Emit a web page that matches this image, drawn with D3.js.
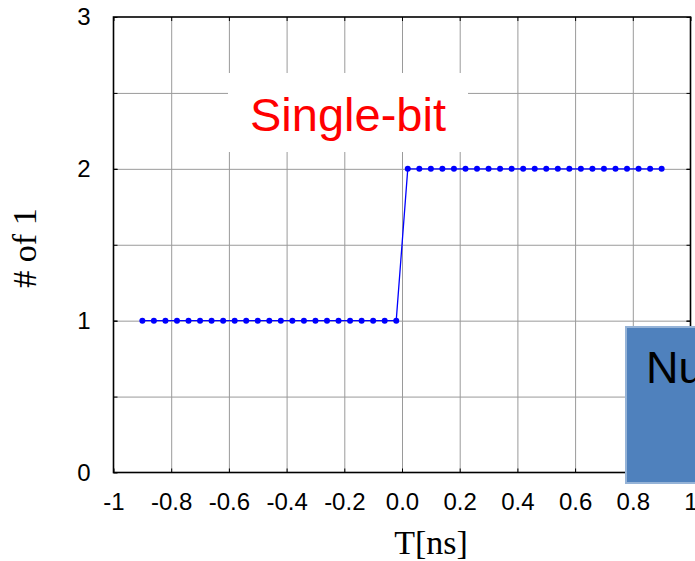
<!DOCTYPE html>
<html>
<head>
<meta charset="utf-8">
<script src="https://cdn.jsdelivr.net/npm/d3@7"></script>
<style>
  body { margin: 0; background: #fff; }
  svg { display: block; }
</style>
</head>
<body>
<svg class="chart" width="695" height="561"></svg>
<script>
// values
const timeNs = [
    -0.9, -0.86, -0.82, -0.78, -0.74, -0.7, -0.66, -0.62, -0.58, -0.54, -0.5, -0.46,
    -0.42, -0.38, -0.34, -0.3, -0.26, -0.22, -0.18, -0.14, -0.1, -0.06, -0.02,
    0.02, 0.06, 0.1, 0.14, 0.18, 0.22, 0.26, 0.3, 0.34, 0.38, 0.42, 0.46,
    0.5, 0.54, 0.58, 0.62, 0.66, 0.7, 0.74, 0.78, 0.82, 0.86, 0.9
];
const countOnes = [
    1, 1, 1, 1, 1, 1, 1, 1, 1, 1, 1, 1, 1, 1, 1, 1, 1, 1, 1, 1, 1, 1, 1,
    2, 2, 2, 2, 2, 2, 2, 2, 2, 2, 2, 2, 2, 2, 2, 2, 2, 2, 2, 2, 2, 2, 2
];
const xTickValues = [-1, -0.8, -0.6, -0.4, -0.2, 0, 0.2, 0.4, 0.6, 0.8, 1];
const xTickLabels = ['-1', '-0.8', '-0.6', '-0.4', '-0.2', '0.0', '0.2', '0.4', '0.6', '0.8', '1'];
const yTickValues = [0, 1, 2, 3];
const yGridValues = [0.5, 1, 1.5, 2, 2.5];

const svg = d3.select('.chart');
const plotLeft = 113.5, plotRight = 690.5, plotTop = 17, plotBottom = 472.5;

const xs = d3.scaleLinear().domain([-1, 1]).range([plotLeft, plotRight]);
const ys = d3.scaleLinear().domain([0, 3]).range([plotBottom, plotTop]);

svg.append('rect').attr('width', 695).attr('height', 561).attr('fill', '#fff');

// grid
svg.append('g')
    .attr('transform', `translate(0,${plotBottom})`)
    .call(d3.axisBottom(xs).tickValues(xTickValues.slice(1, -1)).tickSize(-(plotBottom - plotTop)).tickFormat(''))
    .call(g => g.select('.domain').remove())
    .call(g => g.selectAll('line').attr('stroke', '#9a9a9a').attr('stroke-width', 1));

svg.append('g')
    .attr('transform', `translate(${plotLeft},0)`)
    .call(d3.axisLeft(ys).tickValues(yGridValues).tickSize(-(plotRight - plotLeft)).tickFormat(''))
    .call(g => g.select('.domain').remove())
    .call(g => g.selectAll('line').attr('stroke', '#9a9a9a').attr('stroke-width', 1));

// small inward ticks
const tickLen = 4;
const yAllTicks = d3.merge([yTickValues, yGridValues]);
svg.append('g').attr('transform', `translate(0,${plotBottom})`)
    .call(d3.axisTop(xs).tickValues(xTickValues).tickSize(tickLen).tickFormat(''))
    .call(g => g.select('.domain').remove());
svg.append('g').attr('transform', `translate(0,${plotTop})`)
    .call(d3.axisBottom(xs).tickValues(xTickValues).tickSize(tickLen).tickFormat(''))
    .call(g => g.select('.domain').remove());
svg.append('g').attr('transform', `translate(${plotLeft},0)`)
    .call(d3.axisRight(ys).tickValues(yAllTicks).tickSize(tickLen).tickFormat(''))
    .call(g => g.select('.domain').remove());
svg.append('g').attr('transform', `translate(${plotRight},0)`)
    .call(d3.axisLeft(ys).tickValues(yAllTicks).tickSize(tickLen).tickFormat(''))
    .call(g => g.select('.domain').remove());

// frame
svg.append('rect')
    .attr('x', plotLeft).attr('y', plotTop)
    .attr('width', plotRight - plotLeft).attr('height', plotBottom - plotTop)
    .attr('fill', 'none').attr('stroke', '#000').attr('stroke-width', 1.6);

// tick labels
svg.append('g')
    .attr('transform', `translate(0,${plotBottom})`)
    .call(d3.axisBottom(xs).tickValues(xTickValues).tickSize(0).tickPadding(20)
        .tickFormat((d, i) => xTickLabels[i]))
    .call(g => g.select('.domain').remove())
    .call(g => g.selectAll('text').attr('font-family', 'Arial, "Liberation Sans", sans-serif')
        .attr('font-size', 24).attr('fill', '#000'));

svg.append('g')
    .attr('transform', `translate(${plotLeft},0)`)
    .call(d3.axisLeft(ys).tickValues(yTickValues).tickSize(0).tickPadding(23).tickFormat(d3.format('d')))
    .call(g => g.select('.domain').remove())
    .call(g => g.selectAll('text').attr('font-family', 'Arial, "Liberation Sans", sans-serif')
        .attr('font-size', 24).attr('fill', '#000'));

// axis titles
svg.append('text')
    .attr('x', 431).attr('y', 554)
    .attr('text-anchor', 'middle')
    .attr('font-family', '"Times New Roman", "Liberation Serif", serif')
    .attr('font-size', 34)
    .text('T[ns]');

svg.append('g')
    .attr('transform', 'translate(36,248)')
    .append('text')
    .attr('text-anchor', 'middle')
    .attr('transform', 'rotate(-90)')
    .attr('font-family', '"Times New Roman", "Liberation Serif", serif')
    .attr('font-size', 34)
    .text('# of 1');

// "Single-bit" label box
svg.append('rect')
    .attr('x', 228).attr('y', 73).attr('width', 240).attr('height', 79)
    .attr('fill', '#fff');
svg.append('text')
    .attr('x', 348).attr('y', 131)
    .attr('text-anchor', 'middle')
    .attr('font-family', 'Arial, "Liberation Sans", sans-serif')
    .attr('font-size', 47)
    .attr('fill', '#ff0000')
    .text('Single-bit');

// series
const points = timeNs.map((t, i) => ({ t, n: countOnes[i] }));
svg.append('path')
    .datum(points)
    .attr('fill', 'none')
    .attr('stroke', '#0000ff')
    .attr('stroke-width', 1.3)
    .attr('d', d3.line().x(d => xs(d.t)).y(d => ys(d.n)));

svg.append('g')
    .selectAll('circle')
    .data(points)
    .enter()
    .append('circle')
    .attr('cx', d => xs(d.t))
    .attr('cy', d => ys(d.n))
    .attr('r', 3)
    .attr('fill', '#0000ff');

// overlapping blue box
svg.append('rect')
    .attr('x', 626).attr('y', 327).attr('width', 100).attr('height', 156)
    .attr('fill', '#4f81bd').attr('stroke', '#95b3d7').attr('stroke-width', 2);
svg.append('text')
    .attr('x', 646).attr('y', 383)
    .attr('font-family', 'Arial, "Liberation Sans", sans-serif')
    .attr('font-size', 45)
    .attr('fill', '#000')
    .text('Number');
</script>
</body>
</html>
